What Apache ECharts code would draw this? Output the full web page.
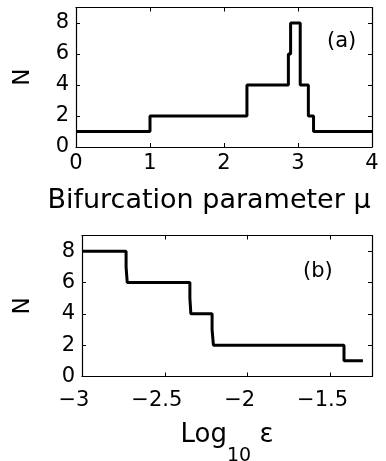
<!DOCTYPE html>
<html>
<head>
<meta charset="utf-8">
<script src="https://cdn.jsdelivr.net/npm/echarts@6/dist/echarts.min.js"></script>
<style>
  html, body { margin: 0; padding: 0; background: #fff; }
  #chart { width: 386px; height: 461px; }
</style>
</head>
<body>
<div id="chart"></div>
<script>
// panel (a): N vs bifurcation parameter mu (value holds until next break)
const muBreaks = [0, 1, 2.31, 2.87, 2.9, 3.03, 3.14, 3.21, 4];
const muN = [1, 2, 4, 6, 8, 4, 2, 1, 1];
// panel (b): N vs log10 eps
const epsBreaks = [-3, -2.734, -2.727, -2.349, -2.343, -2.215, -2.207, -1.419, -1.305];
const epsN = [8, 7, 6, 5, 4, 3, 2, 1, 1];
// tick labels
const muTicks = [0, 1, 2, 3, 4];
const epsTicks = [-3, -2.5, -2, -1.5];
const nTicks = [0, 2, 4, 6, 8];

const FONT = 'DejaVu Sans';
const chart = echarts.init(document.getElementById('chart'), null, { renderer: 'canvas' });

const line = { show: true, onZero: false, lineStyle: { color: '#000', width: 1.2 } };
const tick = { show: true, inside: true, length: 4, lineStyle: { color: '#000', width: 1 } };
const noLabel = { show: false };

function xAxisPair(gridIndex, min, max, interval, ticks, name, nameGap, nameStyle, labelMargin, labelPad) {
  return [
    {
      type: 'value', gridIndex, min, max, interval, position: 'bottom',
      axisLine: line, axisTick: tick, splitLine: { show: false },
      axisLabel: {
        color: '#000', fontFamily: FONT, fontSize: 21, margin: labelMargin, padding: labelPad,
        formatter: (v) => ticks.includes(v) ? String(v).replace('-', '\u2212') : '',
      },
      name, nameLocation: 'middle', nameGap,
      nameTextStyle: Object.assign({ color: '#000', fontFamily: FONT, fontSize: 27 }, nameStyle),
    },
    {
      type: 'value', gridIndex, min, max, interval, position: 'top',
      axisLine: line, axisTick: tick, axisLabel: noLabel, splitLine: { show: false },
    },
  ];
}

function yAxisPair(gridIndex, nameGap) {
  return [
    {
      type: 'value', gridIndex, min: 0, max: 9, interval: 2, position: 'left',
      axisLine: line, axisTick: tick, splitLine: { show: false },
      axisLabel: {
        color: '#000', fontFamily: FONT, fontSize: 21, margin: 7,
        formatter: (v) => nTicks.includes(v) ? String(v) : '',
      },
      name: 'N', nameLocation: 'middle', nameGap, nameRotate: 90,
      nameTextStyle: { color: '#000', fontFamily: FONT, fontSize: 23 },
    },
    {
      type: 'value', gridIndex, min: 0, max: 9, interval: 2, position: 'right',
      axisLine: line, axisTick: tick, axisLabel: noLabel, splitLine: { show: false },
    },
  ];
}

const xa = xAxisPair(0, 0, 4, 1, muTicks, 'Bifurcation parameter \u03bc', 40,
  { padding: [0, 30, 0, 0] }, 6, [0, 0, 0, 0]);
const xb = xAxisPair(1, -3, -1.25, 0.5, epsTicks, 'Log{s|10} \u03b5', 28, {
  fontSize: 26,
  rich: { s: { fontFamily: FONT, fontSize: 19, padding: [42, 0, 0, 0] } },
}, 14, [0, 16, 0, 0]);

const option = {
  animation: false,
  backgroundColor: '#fff',
  grid: [
    { left: 76, right: 14, top: 7.5, height: 139.5, outerBoundsMode: 'none' },
    { left: 82, right: 14, top: 235.5, height: 141, outerBoundsMode: 'none' },
  ],
  xAxis: [...xa, ...xb],
  yAxis: [...yAxisPair(0, 41), ...yAxisPair(1, 47)],
  graphic: [
    { type: 'text', left: 327, top: 31, style: { text: '(a)', font: '21px "DejaVu Sans"', fill: '#000' } },
    { type: 'text', left: 303, top: 261, style: { text: '(b)', font: '21px "DejaVu Sans"', fill: '#000' } },
  ],
  series: [
    {
      type: 'line', xAxisIndex: 0, yAxisIndex: 0, step: 'end', symbol: 'none',
      lineStyle: { color: '#000', width: 3 },
      data: muBreaks.map((x, i) => [x, muN[i]]),
    },
    {
      type: 'line', xAxisIndex: 2, yAxisIndex: 2, step: 'end', symbol: 'none',
      lineStyle: { color: '#000', width: 3 },
      data: epsBreaks.map((x, i) => [x, epsN[i]]),
    },
  ],
};

chart.setOption(option);
</script>
</body>
</html>
